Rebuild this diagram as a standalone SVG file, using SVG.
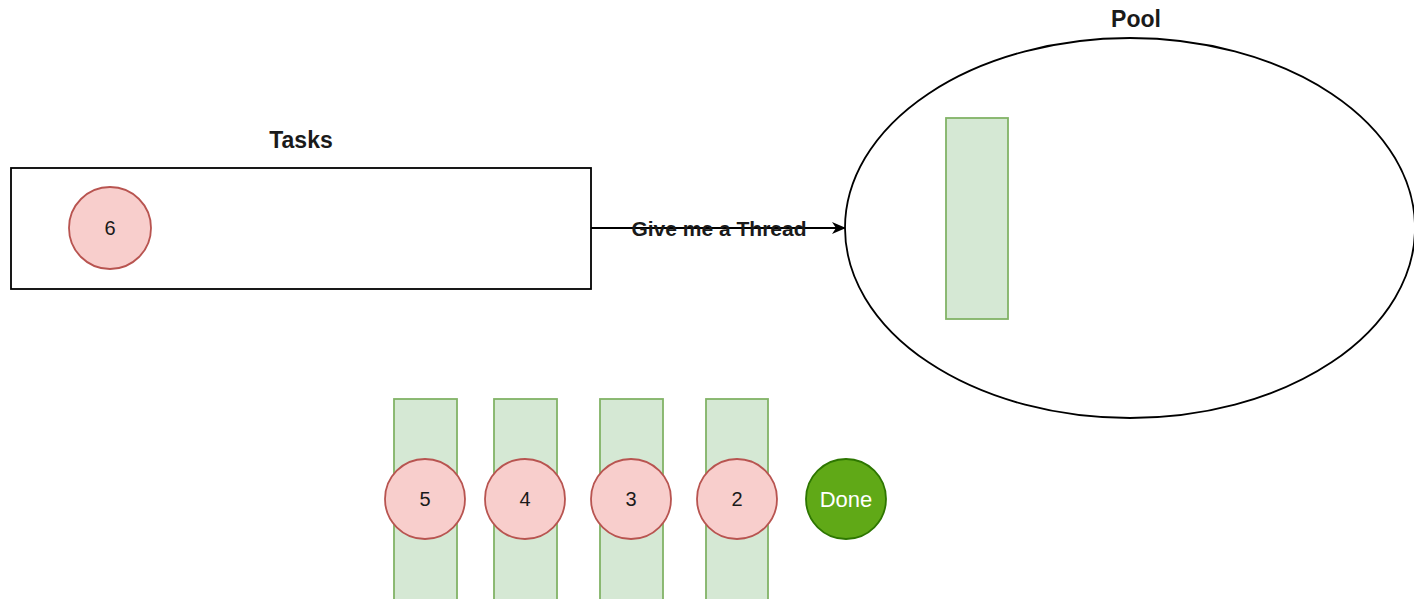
<svg xmlns="http://www.w3.org/2000/svg" width="1414" height="599" viewBox="0 0 1414 599">
<defs>
<style>
.lbl{font-family:"Liberation Sans",Arial,sans-serif;font-size:20px;fill:#1a1a1a;text-anchor:middle;dominant-baseline:central}
.title{font-family:"Liberation Sans",Arial,sans-serif;font-size:23px;font-weight:bold;fill:#1a1a1a;text-anchor:middle;dominant-baseline:central}
.task{fill:#f8cecc;stroke:#b85450;stroke-width:1.8}
.thread{fill:#d5e8d4;stroke:#82b366;stroke-width:1.8}
.box{fill:#fff;stroke:#000;stroke-width:1.8}
</style>
<marker id="arr" viewBox="0 0 14 12" refX="13" refY="6" markerWidth="14" markerHeight="12" markerUnits="userSpaceOnUse" orient="auto">
<path d="M0,0 L14,6 L0,12 L4,6 Z" fill="#000"/>
</marker>
</defs>
<rect width="1414" height="599" fill="#fff"/>
<g id="tasks">
<text class="title" x="301" y="140">Tasks</text>
<rect class="box" x="11" y="168" width="580" height="121"/>
</g>
<g id="task6">
<circle class="task" cx="110" cy="228" r="41"/>
<text class="lbl" x="110" y="228">6</text>
</g>
<g id="pool">
<text class="title" x="1136" y="19">Pool</text>
<ellipse class="box" cx="1130" cy="228" rx="285" ry="190"/>
</g>
<g id="pool-thread">
<rect class="thread" x="946" y="118" width="62" height="201"/>
</g>
<g id="connectors">
<line x1="591" y1="228" x2="845" y2="228" stroke="#000" stroke-width="1.8" marker-end="url(#arr)"/>
<text class="lbl" x="719" y="228" style="font-weight:bold;font-size:21px">Give me a Thread</text>
</g>
<g id="thread-a"><rect class="thread" x="394" y="399" width="63" height="210"/></g>
<g id="thread-b"><rect class="thread" x="494" y="399" width="63" height="210"/></g>
<g id="thread-c"><rect class="thread" x="600" y="399" width="63" height="210"/></g>
<g id="thread-d"><rect class="thread" x="706" y="399" width="62" height="210"/></g>
<g id="task5"><circle class="task" cx="425" cy="499" r="40"/><text class="lbl" x="425" y="499">5</text></g>
<g id="task4"><circle class="task" cx="525" cy="499" r="40"/><text class="lbl" x="525" y="499">4</text></g>
<g id="task3"><circle class="task" cx="631" cy="499" r="40"/><text class="lbl" x="631" y="499">3</text></g>
<g id="task2"><circle class="task" cx="737" cy="499" r="40"/><text class="lbl" x="737" y="499">2</text></g>
<g id="done"><circle cx="846" cy="499" r="40" fill="#60a917" stroke="#2d7600" stroke-width="1.8"/><text class="lbl" x="846" y="499" style="fill:#fff;font-size:22px">Done</text></g>
</svg>
